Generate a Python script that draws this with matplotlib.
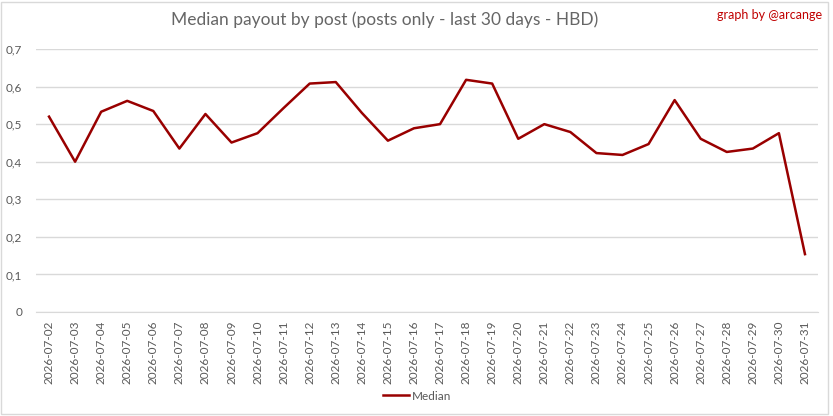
import matplotlib.pyplot as plt
from matplotlib.patches import Rectangle

plt.rcParams['font.family'] = ['Lato', 'DejaVu Sans']

dates = ['2026-07-%02d' % d for d in range(2, 32)]
median = [0.520, 0.400, 0.533, 0.562, 0.535, 0.435, 0.527, 0.451, 0.476, 0.543,
          0.608, 0.612, 0.530, 0.456, 0.489, 0.500, 0.618, 0.608, 0.461, 0.500,
          0.479, 0.423, 0.418, 0.447, 0.564, 0.461, 0.426, 0.435, 0.476, 0.154]
yticks = [0, 0.1, 0.2, 0.3, 0.4, 0.5, 0.6, 0.7]
ylabels = ['0', '0,1', '0,2', '0,3', '0,4', '0,5', '0,6', '0,7']

grey = '#595959'
fig = plt.figure(figsize=(8.33, 4.16), dpi=100)
ax = fig.add_axes([36/833, 1-312/416, (818-36)/833, (312-49)/416])

x = range(len(dates))
ax.plot(x, median, color='#990000', linewidth=1.8, label='Median')
ax.set_xlim(-0.5, len(dates)-0.5)
ax.set_ylim(0, 0.7)
ax.set_yticks(yticks)
ax.set_yticklabels(ylabels)
ax.set_xticks(list(x))
ax.set_xticklabels(dates, rotation=90)
ax.tick_params(axis='both', length=0, colors=grey, labelsize=8.5)
ax.tick_params(axis='y', pad=10)
ax.tick_params(axis='x', pad=6)
ax.grid(axis='y', color='#d9d9d9', linewidth=1)
ax.set_axisbelow(True)
for s in ['top', 'right', 'left']:
    ax.spines[s].set_visible(False)
ax.spines['bottom'].set_color('#d9d9d9')

fig.text(385/833, 1-20/416, 'Median payout by post (posts only - last 30 days - HBD)',
         ha='center', va='center', fontsize=12.5, color='#666666')
fig.text(822/833, 1-15/416, 'graph by @arcange', ha='right', va='center',
         fontsize=9, color='#c00000')

fig.legend(loc='center', bbox_to_anchor=(417/833, 1-396/416), frameon=False,
           fontsize=8.5, labelcolor=grey, handlelength=2.2, handletextpad=0.3)

fig.patches.append(Rectangle((1/833, 2/416), 827/833, 412/416, transform=fig.transFigure,
                             fill=False, edgecolor='#d9d9d9', linewidth=1))

fig.savefig('out.png', dpi=100)
